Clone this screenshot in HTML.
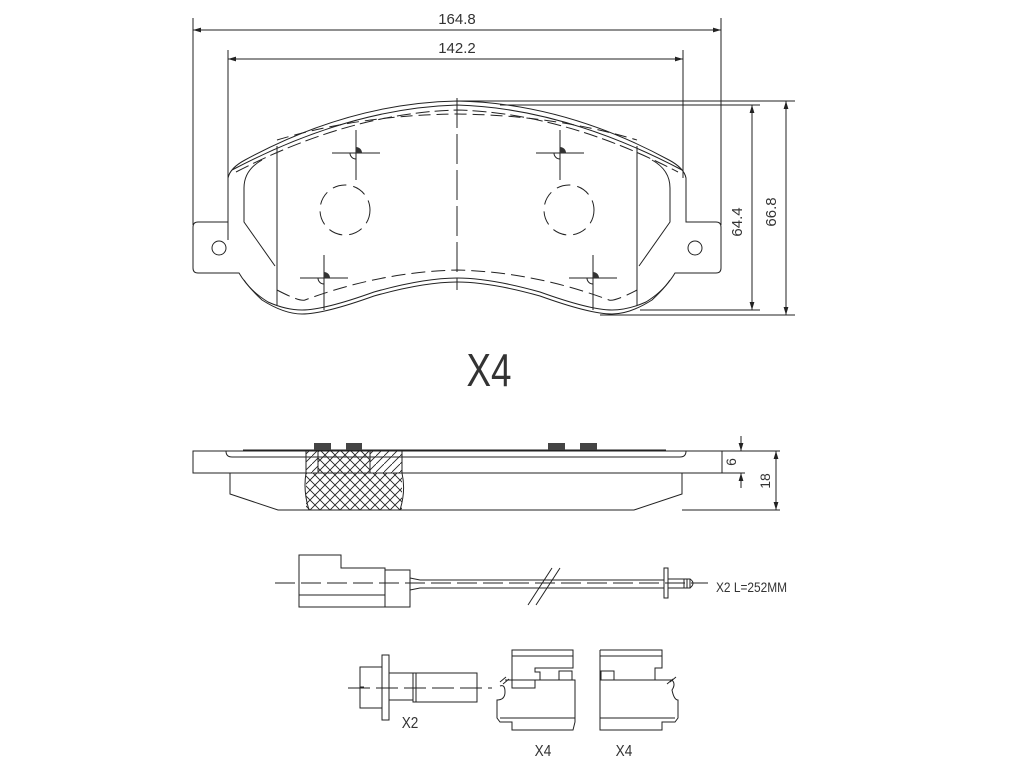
<!DOCTYPE html>
<html><head><meta charset="utf-8"><style>
html,body{margin:0;padding:0;background:#fff;}
svg{display:block;}
text{font-family:"Liberation Sans",sans-serif;fill:#333;}
</style></head><body>
<svg width="1024" height="763" viewBox="0 0 1024 763" xmlns="http://www.w3.org/2000/svg">
<defs>
<marker id="a" viewBox="0 0 10 10" refX="10" refY="5" markerWidth="8" markerHeight="8" orient="auto-start-reverse"><path d="M0,2 L10,5 L0,8 z" fill="#222"/></marker>
<pattern id="xh" width="10" height="10" patternUnits="userSpaceOnUse"><path d="M0,0 L10,10 M10,0 L0,10" stroke="#222" stroke-width="0.9"/></pattern>
<pattern id="sh" width="8" height="8" patternUnits="userSpaceOnUse"><path d="M0,8 L8,0" stroke="#222" stroke-width="0.9"/></pattern>
</defs>
<g fill="none" stroke="#222" stroke-width="1">
<line x1="193" y1="18" x2="193" y2="225"/>
<line x1="721" y1="18" x2="721" y2="225"/>
<line x1="193" y1="30" x2="721" y2="30" marker-start="url(#a)" marker-end="url(#a)"/>
<line x1="228" y1="50" x2="228" y2="178"/>
<line x1="683" y1="50" x2="683" y2="178"/>
<line x1="228" y1="59" x2="683" y2="59" marker-start="url(#a)" marker-end="url(#a)"/>
<line x1="457" y1="101" x2="795" y2="101"/>
<line x1="500" y1="105" x2="760" y2="105"/>
<line x1="600" y1="315" x2="795" y2="315"/>
<line x1="640" y1="310" x2="760" y2="310"/>
<line x1="786" y1="101" x2="786" y2="315" marker-start="url(#a)" marker-end="url(#a)"/>
<line x1="752" y1="105" x2="752" y2="310" marker-start="url(#a)" marker-end="url(#a)"/>

<path d="M228,240 L228,178 Q230,168 245,160 Q350,103 457,101 Q564,103 669,160 Q684,168 686,178 L686,222 L716,222 Q721,222 721,227 L721,268 Q721,273 716,273 L675,273 Q668,285 652,300 Q630,314 612,314 Q590,314 540,296 Q490,282 457,282 Q424,282 374,296 Q324,314 302,314 Q284,314 262,300 Q246,285 239,273 L198,273 Q193,273 193,268 L193,227 Q193,222 198,222 L228,222"/>
<path d="M232,170 Q350,108 457,105 Q564,108 682,170" />
<path d="M236,172 Q350,113 457,110 Q564,113 678,172" stroke-dasharray="14,5"/>
<path d="M244,280 Q252,292 268,302 Q286,310 302,310 Q324,310 374,292 Q424,278 457,278 Q490,278 540,292 Q590,310 612,310 Q628,310 646,302 Q662,292 670,280"/>
<path d="M277,146 L277,305 M637,146 L637,305"/>
<path d="M262,160 Q244,170 244,188 L244,222 L275,266" />
<path d="M652,160 Q670,170 670,188 L670,222 L639,266" />
<path d="M277,140 Q360,115 457,114 Q554,115 637,140" stroke-dasharray="12,6"/>
<path d="M277,290 Q300,302 305,300 Q380,272 457,270 Q534,272 609,300 Q614,302 637,290" stroke-dasharray="14,6"/>
<line x1="457" y1="98" x2="457" y2="290" stroke-dasharray="30,6"/>
<circle cx="219" cy="248" r="7"/>
<circle cx="695" cy="248" r="7"/>
<circle cx="345" cy="210" r="25" stroke-dasharray="14,7"/>
<circle cx="569" cy="210" r="25" stroke-dasharray="14,7"/>
<g><line x1="332" y1="153" x2="380" y2="153"/><line x1="356" y1="130" x2="356" y2="180"/><path d="M350,153 a6,6 0 0 0 6,6"/></g>
<g><line x1="536" y1="153" x2="584" y2="153"/><line x1="560" y1="130" x2="560" y2="180"/><path d="M554,153 a6,6 0 0 0 6,6"/></g>
<g><line x1="300" y1="278" x2="348" y2="278"/><line x1="324" y1="255" x2="324" y2="310"/><path d="M318,278 a6,6 0 0 0 6,6"/></g>
<g><line x1="569" y1="278" x2="617" y2="278"/><line x1="593" y1="255" x2="593" y2="310"/><path d="M587,278 a6,6 0 0 0 6,6"/></g>
</g>
<g fill="#333"><path d="M356,147 a6,6 0 0 1 6,6 h-6z"/><path d="M560,147 a6,6 0 0 1 6,6 h-6z"/><path d="M324,272 a6,6 0 0 1 6,6 h-6z"/><path d="M593,272 a6,6 0 0 1 6,6 h-6z"/></g>
<text x="742" y="222" font-size="15" transform="rotate(-90 742 222)" text-anchor="middle">64.4</text>
<text x="776" y="212" font-size="15" transform="rotate(-90 776 212)" text-anchor="middle">66.8</text>
<text x="457" y="24" font-size="15" text-anchor="middle">164.8</text>
<text x="457" y="53" font-size="15" text-anchor="middle">142.2</text>
<text x="489" y="386" font-size="46" text-anchor="middle" fill="#555" transform="translate(489 0) scale(0.8 1) translate(-489 0)">X4</text>

<g fill="none" stroke="#222" stroke-width="1">
<rect x="306" y="451" width="96" height="59" fill="url(#xh)" stroke="none"/>
<rect x="306" y="451" width="12" height="22" fill="#fff"/>
<rect x="306" y="451" width="12" height="22" fill="url(#sh)"/>
<rect x="370" y="451" width="32" height="22" fill="#fff"/>
<rect x="370" y="451" width="32" height="22" fill="url(#sh)"/>
<rect x="193" y="451" width="529" height="22" fill="none"/>
<line x1="243" y1="450" x2="666" y2="450"/>
<path d="M226,451 q0,6 6,6 L680,457 q6,0 6,-6"/>
<path d="M230,473 L230,494 L278,510 L634,510 L682,494 L682,473"/>
<path d="M306,473 q-3,18 3,37 M402,473 q4,18 -2,37"/>
<line x1="722" y1="451" x2="780" y2="451"/>
<line x1="722" y1="473" x2="745" y2="473"/>
<line x1="682" y1="510" x2="780" y2="510"/>
<line x1="741" y1="436" x2="741" y2="451" marker-end="url(#a)"/>
<line x1="741" y1="488" x2="741" y2="473" marker-end="url(#a)"/>
<line x1="776" y1="451" x2="776" y2="510" marker-start="url(#a)" marker-end="url(#a)"/>
</g>
<g fill="#444"><rect x="314" y="443" width="17" height="7"/><rect x="346" y="443" width="16" height="7"/><rect x="548" y="443" width="17" height="7"/><rect x="580" y="443" width="17" height="7"/></g>
<text x="736" y="462" font-size="14" transform="rotate(-90 736 462)" text-anchor="middle">6</text>
<text x="770" y="481" font-size="14" transform="rotate(-90 770 481)" text-anchor="middle">18</text>

<g fill="none" stroke="#222" stroke-width="1">
<line x1="275" y1="583" x2="708" y2="583" stroke-dasharray="20,6"/>
<path d="M299,555 L341,555 L341,568 L385,568 L385,607 L299,607 Z"/>
<line x1="299" y1="595" x2="385" y2="595"/>
<rect x="385" y="570" width="25" height="37"/>
<path d="M410,578 L420,580 L664,580 M410,590 L420,588 L664,588"/>
<path d="M528,605 L552,568 M536,605 L560,568"/>
<rect x="664" y="568" width="4" height="30"/>
<path d="M668,579 L690,579 L690,588 L668,588 M684,579 L684,588 M687,579 L687,588"/>
<path d="M690,579 q6,4 0,9"/>
</g>
<text x="716" y="592" font-size="14" transform="translate(716 0) scale(0.85 1) translate(-716 0)">X2  L=252MM</text>

<g fill="none" stroke="#222" stroke-width="1">
<path d="M360,667 L382,667 L382,708 L360,708 Z M360,687 L364,687"/>
<rect x="382" y="655" width="7" height="65"/>
<rect x="389" y="673" width="24" height="27"/>
<rect x="413" y="673" width="64" height="29"/>
<line x1="416" y1="673" x2="416" y2="702"/>
<line x1="348" y1="688" x2="492" y2="688" stroke-dasharray="22,6"/>
<path d="M512,650 L573,650 L573,668 L535,668 L535,672 L540,672 L540,680 L535,680 L535,688 L512,688 Z"/>
<line x1="512" y1="656" x2="573" y2="656"/>
<rect x="559" y="671" width="13" height="9"/>
<path d="M505,680 L575,680 L575,722 L573,730 L512,730 L512,722 L500,722 L497,718 L497,700 Q505,700 505,692 Q505,684 500,686"/>
<line x1="500" y1="718" x2="575" y2="718"/>
<path d="M500,682 L506,677 M503,684 L509,679"/>
<path d="M600,650 L662,650 L662,668 L655,668 L655,680 M600,650 L600,680"/>
<line x1="600" y1="656" x2="662" y2="656"/>
<rect x="601" y="671" width="13" height="9"/>
<path d="M600,680 L672,680 Q676,684 672,690 Q674,700 678,700 L678,718 L675,722 L662,722 L662,730 L600,730 Z"/>
<line x1="600" y1="718" x2="675" y2="718"/>
<path d="M670,682 L676,677 M667,684 L673,679"/>
</g>
<text x="410" y="728" font-size="16" text-anchor="middle" transform="translate(410 0) scale(0.85 1) translate(-410 0)">X2</text>
<text x="543" y="756" font-size="16" text-anchor="middle" transform="translate(543 0) scale(0.85 1) translate(-543 0)">X4</text>
<text x="624" y="756" font-size="16" text-anchor="middle" transform="translate(624 0) scale(0.85 1) translate(-624 0)">X4</text>
</svg>
</body></html>
